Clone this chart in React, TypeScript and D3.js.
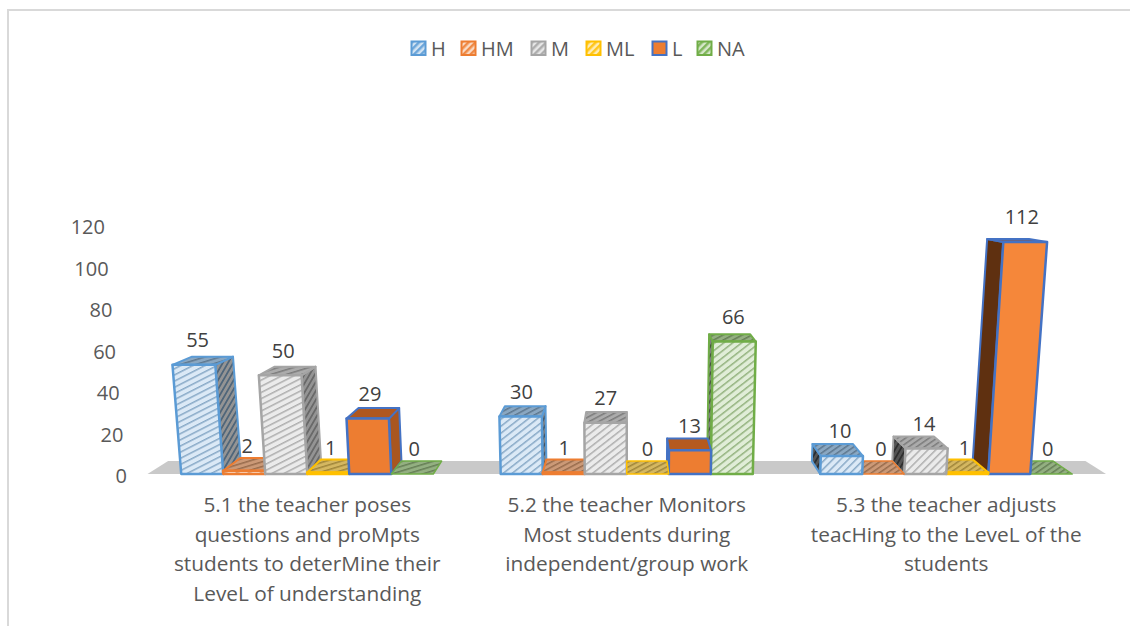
import React from "react";
import * as d3 from "d3";

const categories = [
  ["5.1 the teacher poses", "questions and proMpts", "students to deterMine their", "LeveL of understanding"],
  ["5.2 the teacher Monitors", "Most students during", "independent/group work"],
  ["5.3 the teacher adjusts", "teacHing to the LeveL of the", "students"],
];
const groupKeys = ["5.1", "5.2", "5.3"];
const seriesNames = ["H", "HM", "M", "ML", "L", "NA"];
const seriesColors = ["#5B9BD5", "#ED7D31", "#A5A5A5", "#FFC000", "#4472C4", "#70AD47"];
const H = [55, 30, 10];
const HM = [2, 1, 0];
const M = [50, 27, 14];
const ML = [1, 0, 1];
const L = [29, 13, 112];
const NA = [0, 66, 0];
const seriesValues = [H, HM, M, ML, L, NA];
const axisTicks = [0, 20, 40, 60, 80, 100, 120];

const legendSwatchX = [411, 461, 531, 586, 652, 697];
const hatchAngle = [-27, -38, -45];
const lFront = ["#ED7D31", "#ED7D31", "#F5873A"];
const lSide = ["#A9561F", "#B55A1F", "#5F3010"];
const lTop = ["#B0571F", "#B55A1F", "#6E6078"];
const sideDark = [0.15, 0.3, 0.62];

const FONT = "'Open Sans', sans-serif";
const Y0 = 474;
const VX = 627;
const VY = 174;
const K = 0.043;
const A = 0.00018;

const xGroup = d3.scaleBand<string>().domain(groupKeys).range([147.5, 1106]).paddingInner(0.211).paddingOuter(0.1056);
const xBar = d3.scaleBand<string>().domain(seriesNames).range([0, xGroup.bandwidth()]);
const hScale = d3.scalePow().exponent(1.06).domain([0, 120]).range([0, 249.6]);
const axisY = d3.scaleLinear().domain([0, 120]).range([476, 227]);
const axisRight = d3.scaleLinear().domain([0, 120]).range([127, 105]);

function project(x: number, h: number, depth: number): [number, number] {
  const sx = VX + (x - VX) * (1 + A * h);
  const sy = Y0 - h;
  return [sx + depth * K * (VX - sx), sy + depth * K * (VY - sy)];
}

const poly = d3.line().curve(d3.curveLinearClosed);
const mix = (a: string, b: string, t: number) => d3.interpolateRgb(a, b)(t);

function Hatch({ id, bg, stripe, angle, size = 5.5, w = 1.5 }: { id: string; bg: string; stripe: string; angle: number; size?: number; w?: number }) {
  return (
    <pattern id={id} width={size} height={size} patternUnits="userSpaceOnUse" patternTransform={`rotate(${angle})`}>
      <rect width={size} height={size} fill={bg} />
      <rect width={size} height={w} fill={stripe} />
    </pattern>
  );
}

export default function App() {
  const bars: any[] = [];
  groupKeys.forEach((g, gi) => {
    seriesNames.forEach((s, si) => {
      const x0 = xGroup(g)! + xBar(s)!;
      const x1 = x0 + xBar.bandwidth();
      bars.push({ gi, si, x0, x1, v: seriesValues[si][gi], h: hScale(seriesValues[si][gi]) });
    });
  });
  const order = bars.slice().sort((a, b) => Math.abs((b.x0 + b.x1) / 2 - VX) - Math.abs((a.x0 + a.x1) / 2 - VX));

  const defs: React.ReactNode[] = [];
  seriesColors.forEach((c, si) => {
    if (si === 4) return;
    groupKeys.forEach((_, gi) => {
      defs.push(<Hatch key={`f${si}${gi}`} id={`f${si}-${gi}`} bg={mix(c, "#ffffff", 0.78)} stripe={mix(mix(c, "#808080", 0.35), "#ffffff", 0.22)} angle={hatchAngle[gi]} />);
      defs.push(<Hatch key={`s${si}${gi}`} id={`s${si}-${gi}`} bg={mix("#a8a8a8", "#202020", sideDark[gi])} stripe={mix(mix(c, "#606060", 0.6), "#000000", sideDark[gi])} angle={-60} size={4.5} w={1.8} />);
      defs.push(<Hatch key={`t${si}${gi}`} id={`t${si}-${gi}`} bg={mix(c, "#b0b0b0", 0.55)} stripe={mix(c, "#606060", 0.6)} angle={hatchAngle[gi] + 10} size={4.5} w={1.5} />);
    });
    defs.push(<Hatch key={`l${si}`} id={`l${si}`} bg={mix(c, "#ffffff", 0.72)} stripe={mix(c, "#ffffff", 0.1)} angle={-45} size={5} w={2.5} />);
  });

  const floor = [project(147.5, 0, 0), project(1106, 0, 0), project(1106, 0, 1), project(147.5, 0, 1)] as [number, number][];

  return (
    <svg width={1130} height={626} style={{ position: "absolute", left: 0, top: 0, background: "#fff" }} fontFamily={FONT}>
      <defs>{defs}</defs>
      <path d="M8 626V10H1130" fill="none" stroke="#d9d9d9" strokeWidth={2} />

      {seriesNames.map((s, i) => (
        <g key={s}>
          <rect x={legendSwatchX[i] + 0.5} y={41.5} width={14} height={13.5} fill={i === 4 ? "#ED7D31" : `url(#l${i})`} stroke={seriesColors[i]} strokeWidth={2} />
          <text x={legendSwatchX[i] + 20} y={55.5} fontSize={20} fill="#595959">{s}</text>
        </g>
      ))}

      {axisTicks.map((t) => (
        <text key={t} x={axisRight(t)} y={axisY(t)} dy="0.36em" textAnchor="end" fontSize={20} fill="#595959">{t}</text>
      ))}

      <path d={poly(floor)!} fill="#c9c9c9" />

      {order.map((b) => {
        const { x0, x1, h, si, gi } = b;
        const color = seriesColors[si];
        const isL = si === 4;
        const front = isL ? lFront[gi] : `url(#f${si}-${gi})`;
        const side = isL ? lSide[gi] : `url(#s${si}-${gi})`;
        const top = isL ? lTop[gi] : `url(#t${si}-${gi})`;
        const fp = [project(x0, 0, 0), project(x1, 0, 0), project(x1, h, 0), project(x0, h, 0)] as [number, number][];
        const tp = [project(x0, h, 0), project(x1, h, 0), project(x1, h, 1), project(x0, h, 1)] as [number, number][];
        const edge = x1 <= VX + 0.5 ? x1 : x0 >= VX - 0.5 ? x0 : null;
        const sp = edge === null ? null : ([project(edge, 0, 0), project(edge, h, 0), project(edge, h, 1), project(edge, 0, 1)] as [number, number][]);
        return (
          <g key={`${gi}-${si}`} stroke={color} strokeWidth={2} strokeLinejoin="round">
            {sp && h > 0 && <path d={poly(sp)!} fill={side} />}
            <path d={poly(tp)!} fill={top} strokeWidth={h > 0 ? 2 : 1.5} />
            {h > 0 && <path d={poly(fp)!} fill={front} strokeWidth={2.5} />}
          </g>
        );
      })}

      {bars.map((b) => {
        const [lx] = project((b.x0 + b.x1) / 2, b.h, 0.2);
        const [, by] = project(b.x0, b.h, 1);
        return (
          <text key={`v${b.gi}-${b.si}`} x={lx} y={by - 12 - 0.043 * b.h} dy="0.36em" textAnchor="middle" fontSize={20} fill="#404040">{b.v}</text>
        );
      })}

      {categories.map((lines, gi) => (
        <text key={gi} textAnchor="middle" fontSize={20.8} fill="#595959">
          {lines.map((ln, i) => (
            <tspan key={i} x={xGroup(groupKeys[gi])! + xGroup.bandwidth() / 2} y={505 + i * 29.5} dy="0.36em">{ln}</tspan>
          ))}
        </text>
      ))}
    </svg>
  );
}
